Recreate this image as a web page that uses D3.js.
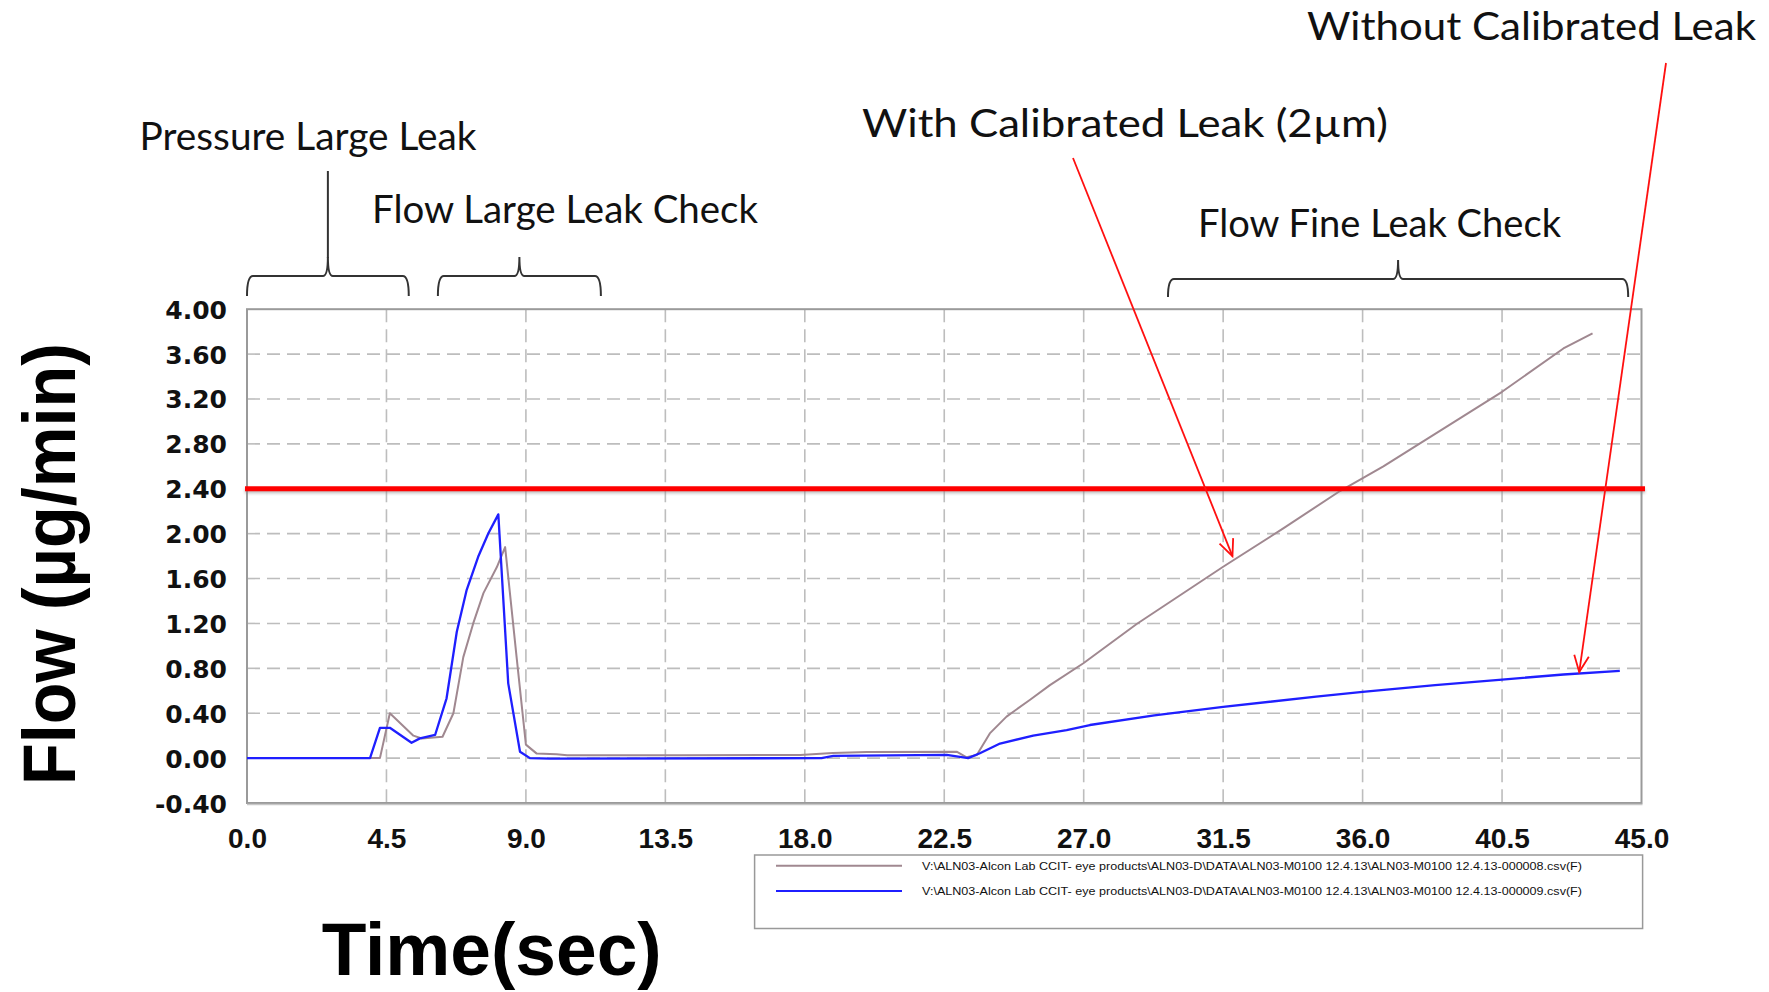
<!DOCTYPE html>
<html><head><meta charset="utf-8">
<script src="https://cdn.jsdelivr.net/npm/d3@7"></script>
<style>body{margin:0;background:#fff}svg{display:block}</style>
</head><body>
<svg id="chart" width="1769" height="992"></svg>
<script>
// ---- data ----
const timeWith = [0, 4.29, 4.61, 5.37, 5.64, 6.31, 6.66, 6.98, 7.30, 7.63, 8.06, 8.33, 8.70, 9.00, 9.35, 9.99, 10.33, 14.0, 17.85, 18.9, 20.0, 22.9, 23.22, 23.55, 23.97, 24.51, 25.27, 25.91, 26.99, 28.71, 31.50, 33.44, 35.27, 36.67, 40.50, 42.48, 43.42];
const flowWith = [0, 0, 0.40, 0.20, 0.175, 0.19, 0.40, 0.90, 1.20, 1.47, 1.70, 1.88, 0.90, 0.12, 0.04, 0.035, 0.025, 0.025, 0.028, 0.045, 0.055, 0.057, 0.007, 0.028, 0.22, 0.37, 0.52, 0.65, 0.845, 1.195, 1.705, 2.047, 2.38, 2.60, 3.264, 3.65, 3.785];
const timeWithout = [0, 3.97, 4.29, 4.61, 5.31, 5.58, 6.07, 6.44, 6.77, 7.09, 7.46, 7.79, 8.11, 8.43, 8.81, 9.13, 9.78, 18.54, 18.92, 22.58, 22.95, 23.27, 23.65, 24.30, 25.37, 26.45, 27.20, 29.28, 31.50, 34.50, 36.00, 38.34, 40.50, 42.48, 44.30];
const flowWithout = [0, 0, 0.27, 0.27, 0.137, 0.176, 0.206, 0.533, 1.126, 1.50, 1.794, 2.003, 2.172, 0.666, 0.057, 0, -0.005, 0, 0.02, 0.028, 0.013, 0, 0.043, 0.13, 0.20, 0.25, 0.295, 0.38, 0.457, 0.547, 0.59, 0.65, 0.70, 0.745, 0.777];
const xTicks = [0, 4.5, 9, 13.5, 18, 22.5, 27, 31.5, 36, 40.5, 45];
const yTicks = [-0.4, 0, 0.4, 0.8, 1.2, 1.6, 2.0, 2.4, 2.8, 3.2, 3.6, 4.0];
const threshold = 2.4;
const legendLabels = [
  "V:\\ALN03-Alcon Lab CCIT- eye products\\ALN03-D\\DATA\\ALN03-M0100 12.4.13\\ALN03-M0100 12.4.13-000008.csv(F)",
  "V:\\ALN03-Alcon Lab CCIT- eye products\\ALN03-D\\DATA\\ALN03-M0100 12.4.13\\ALN03-M0100 12.4.13-000009.csv(F)"
];
const phaseLabels = ["Pressure Large Leak", "Flow Large Leak Check", "Flow Fine Leak Check"];
const phaseRanges = [[0, 5.22], [6.16, 11.42], [29.72, 44.57]];
const curveLabels = ["With Calibrated Leak (2\u00b5m)", "Without Calibrated Leak"];
const arrowTips = [[31.8, 1.80], [42.99, 0.767]];
const xTitle = "Time(sec)";
const yTitle = "Flow (\u00b5g/min)";

// ---- layout ----
const colors = ["#a08890", "#1f1fff"];
const svg = d3.select('#chart');
const x = d3.scaleLinear().domain([0, 45]).range([247, 1641.5]);
const y = d3.scaleLinear().domain([-0.4, 4.0]).range([803, 309.2]);

const defs = svg.append('defs');
const sh = defs.append('filter').attr('id', 'blur').attr('filterUnits', 'userSpaceOnUse')
  .attr('x', 0).attr('y', 0).attr('width', 1769).attr('height', 992);
sh.append('feGaussianBlur').attr('stdDeviation', 1.6);

// grid
const grid = svg.append('g');
grid.selectAll('line.v').data(xTicks.slice(1, -1)).join('line')
  .attr('x1', d => x(d)).attr('x2', d => x(d)).attr('y1', y(4.0)).attr('y2', y(-0.4))
  .attr('stroke', '#bdbdbd').attr('stroke-width', 1.6).attr('stroke-dasharray', '13,7');
grid.selectAll('line.h').data(yTicks.slice(1, -1)).join('line')
  .attr('x1', x(0)).attr('x2', x(45)).attr('y1', d => y(d)).attr('y2', d => y(d))
  .attr('stroke', '#bdbdbd').attr('stroke-width', 1.6).attr('stroke-dasharray', '13,7');

// frame
svg.append('rect').attr('x', x(0)).attr('y', y(4.0)).attr('width', x(45) - x(0)).attr('height', y(-0.4) - y(4.0))
  .attr('fill', 'none').attr('stroke', '#9a9a9a').attr('stroke-width', 2);
svg.append('line').attr('x1', x(0)).attr('x2', x(45) + 1).attr('y1', y(-0.4) + 1.5).attr('y2', y(-0.4) + 1.5)
  .attr('stroke', '#c8c8c8').attr('stroke-width', 1.5);

// axes
const yAxis = svg.append('g').attr('transform', `translate(${x(0)},0)`)
  .call(d3.axisLeft(y).tickValues(yTicks).tickFormat(d => d.toFixed(2)).tickSize(0).tickPadding(20));
yAxis.select('.domain').remove();
yAxis.selectAll('text').attr('font-family', 'DejaVu Sans').attr('font-weight', 'bold').attr('font-size', 25).attr('fill', '#111').attr('dy', '0.36em');

const xAxis = svg.append('g').attr('transform', `translate(0,${y(-0.4)})`)
  .call(d3.axisBottom(x).tickValues(xTicks).tickFormat(d => d.toFixed(1)).tickSize(0).tickPadding(25));
xAxis.select('.domain').remove();
xAxis.selectAll('text').attr('font-family', 'Liberation Sans, Arial').attr('font-weight', 'bold').attr('font-size', 28).attr('fill', '#111');

// series
const line = d3.line().x(d => x(d[0])).y(d => y(d[1]));
const s1 = timeWith.map((t, i) => [t, flowWith[i]]);
const s2 = timeWithout.map((t, i) => [t, flowWithout[i]]);
svg.append('path').datum(s1).attr('d', line).attr('fill', 'none').attr('stroke', colors[0]).attr('stroke-width', 2).attr('stroke-linejoin', 'round');
svg.append('path').datum(s2).attr('d', line).attr('fill', 'none').attr('stroke', colors[1]).attr('stroke-width', 2.3).attr('stroke-linejoin', 'round');

// threshold (with soft shadow)
svg.append('rect').attr('x', x(0) - 2).attr('width', x(45) - x(0) + 5.5).attr('y', y(threshold) - 0.5).attr('height', 5)
  .attr('fill', '#888').attr('opacity', 0.55).attr('filter', 'url(#blur)');
svg.append('rect').attr('x', x(0) - 2).attr('width', x(45) - x(0) + 5.5).attr('y', y(threshold) - 2.5).attr('height', 5)
  .attr('fill', '#ff0000');

// titles
svg.append('text').attr('transform', 'translate(75,564) rotate(-90)').attr('text-anchor', 'middle')
  .attr('font-family', 'Liberation Sans, Arial').attr('font-weight', 'bold').attr('font-size', 74)
  .attr('textLength', 442).attr('lengthAdjust', 'spacingAndGlyphs').attr('fill', '#000').text(yTitle);
svg.append('text').attr('x', 321.7).attr('y', 975)
  .attr('font-family', 'Liberation Sans, Arial').attr('font-weight', 'bold').attr('font-size', 74)
  .attr('textLength', 340).attr('lengthAdjust', 'spacingAndGlyphs').attr('fill', '#000').text(xTitle);

// annotations
const annFont = 'Lato, Open Sans, sans-serif';
const annText = (s, xx, yy, w) => svg.append('text').attr('x', xx).attr('y', yy).attr('font-family', annFont).attr('font-size', 38)
  .attr('fill', '#111').attr('textLength', w).attr('lengthAdjust', 'spacingAndGlyphs').text(s);
annText(phaseLabels[0], 139.5, 150, 337);
annText(phaseLabels[1], 372, 222.7, 386);
annText(phaseLabels[2], 1198, 237.3, 363);
annText(curveLabels[0], 862, 136.7, 526);
annText(curveLabels[1], 1307, 40, 449);

// brackets
const braceGeom = [{top: 276, end: 296, tip: 257}, {top: 276, end: 296, tip: 257}, {top: 279, end: 297, tip: 260}];
phaseRanges.forEach((r, i) => {
  const x0 = x(r[0]), x1 = x(r[1]), xc = (x0 + x1) / 2, g = braceGeom[i];
  const p = `M${x0},${g.end} Q${x0},${g.top} ${x0 + 6},${g.top} L${xc - 5},${g.top} Q${xc},${g.top} ${xc},${g.tip} Q${xc},${g.top} ${xc + 5},${g.top} L${x1 - 6},${g.top} Q${x1},${g.top} ${x1},${g.end}`;
  svg.append('path').attr('d', p).attr('fill', 'none').attr('stroke', '#333').attr('stroke-width', 2);
});
// leader from Pressure label
{
  const xc = (x(phaseRanges[0][0]) + x(phaseRanges[0][1])) / 2;
  svg.append('line').attr('x1', xc).attr('x2', xc).attr('y1', 171).attr('y2', 258).attr('stroke', '#333').attr('stroke-width', 2);
}

// arrows
const tails = [[1073, 158], [1666, 63]];
arrowTips.forEach((tp, i) => {
  const tx = x(tp[0]), ty = y(tp[1]);
  const [sx, sy] = tails[i];
  const ang = Math.atan2(ty - sy, tx - sx);
  const L = 18, a = 0.42;
  const w1 = [tx - L * Math.cos(ang - a), ty - L * Math.sin(ang - a)];
  const w2 = [tx - L * Math.cos(ang + a), ty - L * Math.sin(ang + a)];
  svg.append('line').attr('x1', sx).attr('y1', sy).attr('x2', tx).attr('y2', ty).attr('stroke', '#ff1010').attr('stroke-width', 1.8);
  svg.append('path').attr('d', `M${w1[0]},${w1[1]} L${tx},${ty} L${w2[0]},${w2[1]}`).attr('fill', 'none')
    .attr('stroke', '#ff1010').attr('stroke-width', 1.8);
});

// legend
const lg = svg.append('g');
lg.append('rect').attr('x', 754.6).attr('y', 855).attr('width', 888).attr('height', 73.5).attr('fill', '#fff').attr('stroke', '#999').attr('stroke-width', 1.5);
legendLabels.forEach((lab, i) => {
  const yy = 865.7 + i * 25.3;
  lg.append('line').attr('x1', 776).attr('x2', 902).attr('y1', yy).attr('y2', yy).attr('stroke', colors[i]).attr('stroke-width', 2);
  lg.append('text').attr('x', 922).attr('y', yy + 4).attr('font-family', 'Liberation Sans, Arial').attr('font-size', 11.5)
    .attr('fill', '#111').attr('textLength', 660).attr('lengthAdjust', 'spacingAndGlyphs').text(lab);
});
</script>
</body></html>
